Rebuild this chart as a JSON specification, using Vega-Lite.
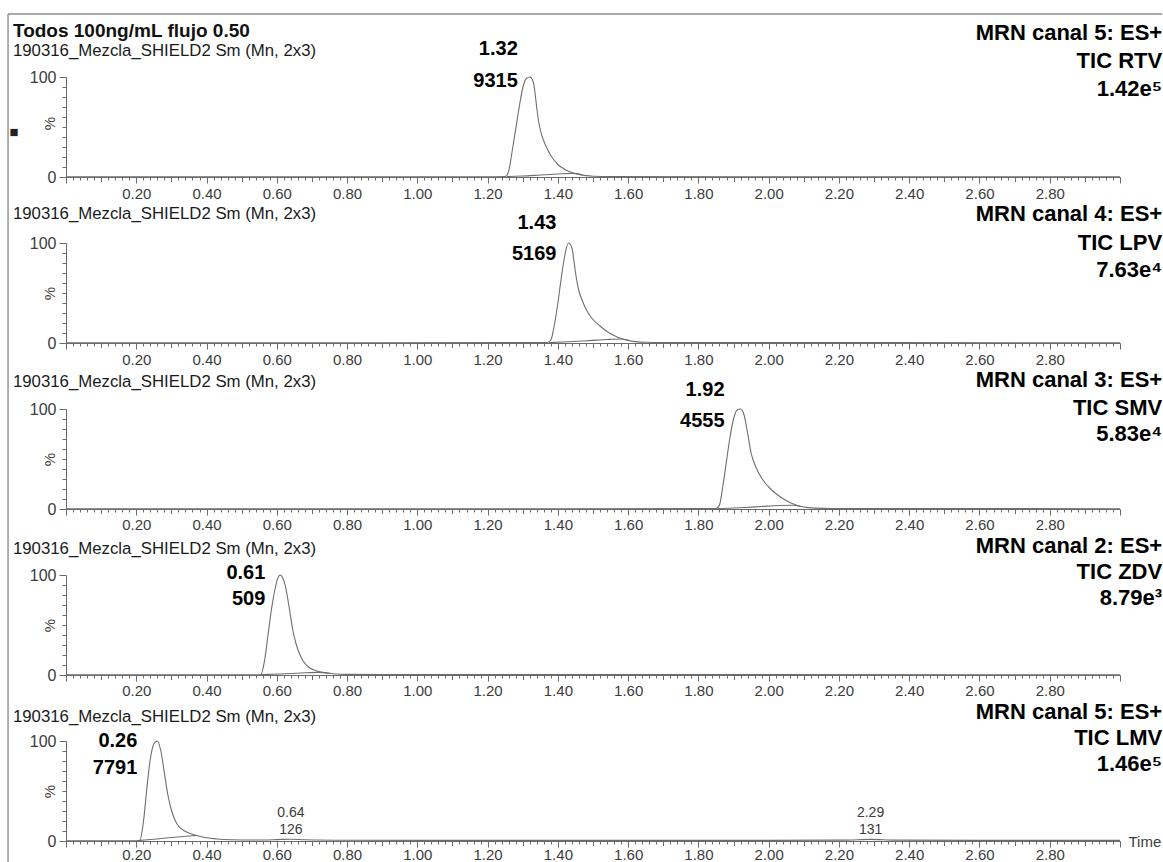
{
  "$schema": "https://vega.github.io/schema/vega-lite/v6.json",
  "background": "white",
  "padding": {"left": 7, "top": 13, "right": 1, "bottom": 0},
  "spacing": 66,
  "bounds": "flush",
  "config": {
    "font": "Liberation Sans",
    "view": {"stroke": null},
    "axis": {"domainColor": "#6a6a6a", "tickColor": "#6a6a6a", "labelColor": "#3c3c3c", "labelFont": "Liberation Sans", "labelFontSize": 15, "titleFont": "Liberation Sans", "titleFontWeight": "normal", "titleColor": "#3c3c3c", "titleFontSize": 15, "grid": false, "labelOverlap": false, "labelFlush": false, "labelBound": false, "domainWidth": 1, "tickWidth": 1},
    "axisY": {"labelFontSize": 16},
    "text": {"font": "Liberation Sans"},
    "rule": {"color": "#8c8c8c", "strokeWidth": 1.4}
  },
  "datasets": {
    "frame": [{"part": "border"}],
    "signal": [
      {"panel":1,"series":"trace","time":0,"pct":0.3},{"panel":1,"series":"trace","time":0.6,"pct":0.3},{"panel":1,"series":"trace","time":1.2,"pct":0.3},{"panel":1,"series":"trace","time":1.25,"pct":0.4},{"panel":1,"series":"trace","time":1.26,"pct":6},{"panel":1,"series":"trace","time":1.27,"pct":26},{"panel":1,"series":"trace","time":1.28,"pct":48},{"panel":1,"series":"trace","time":1.29,"pct":70},{"panel":1,"series":"trace","time":1.3,"pct":89},{"panel":1,"series":"trace","time":1.31,"pct":98.5},{"panel":1,"series":"trace","time":1.32,"pct":100},{"panel":1,"series":"trace","time":1.33,"pct":95},{"panel":1,"series":"trace","time":1.335,"pct":84},{"panel":1,"series":"trace","time":1.34,"pct":69},{"panel":1,"series":"trace","time":1.345,"pct":56},{"panel":1,"series":"trace","time":1.35,"pct":47},{"panel":1,"series":"trace","time":1.36,"pct":36},{"panel":1,"series":"trace","time":1.37,"pct":28},{"panel":1,"series":"trace","time":1.38,"pct":21.5},{"panel":1,"series":"trace","time":1.39,"pct":16.5},{"panel":1,"series":"trace","time":1.4,"pct":12.5},{"panel":1,"series":"trace","time":1.42,"pct":7.5},{"panel":1,"series":"trace","time":1.44,"pct":4.5},{"panel":1,"series":"trace","time":1.46,"pct":2.6},{"panel":1,"series":"trace","time":1.48,"pct":1.4},{"panel":1,"series":"trace","time":1.5,"pct":0.8},{"panel":1,"series":"trace","time":1.55,"pct":0.4},{"panel":1,"series":"trace","time":2.2,"pct":0.3},{"panel":1,"series":"trace","time":3.0,"pct":0.3},
      {"panel":1,"series":"base","time":1.255,"pct":0.4},{"panel":1,"series":"base","time":1.3,"pct":1},{"panel":1,"series":"base","time":1.35,"pct":2},{"panel":1,"series":"base","time":1.4,"pct":3},{"panel":1,"series":"base","time":1.44,"pct":3.6},{"panel":1,"series":"base","time":1.47,"pct":2.2},
      {"panel":2,"series":"trace","time":0,"pct":0.3},{"panel":2,"series":"trace","time":0.8,"pct":0.3},{"panel":2,"series":"trace","time":1.37,"pct":0.4},{"panel":2,"series":"trace","time":1.38,"pct":3},{"panel":2,"series":"trace","time":1.39,"pct":18},{"panel":2,"series":"trace","time":1.4,"pct":40},{"panel":2,"series":"trace","time":1.41,"pct":66},{"panel":2,"series":"trace","time":1.42,"pct":88},{"panel":2,"series":"trace","time":1.43,"pct":100},{"panel":2,"series":"trace","time":1.44,"pct":95},{"panel":2,"series":"trace","time":1.445,"pct":84},{"panel":2,"series":"trace","time":1.45,"pct":71},{"panel":2,"series":"trace","time":1.455,"pct":60},{"panel":2,"series":"trace","time":1.46,"pct":52},{"panel":2,"series":"trace","time":1.47,"pct":42},{"panel":2,"series":"trace","time":1.48,"pct":34},{"panel":2,"series":"trace","time":1.49,"pct":28},{"panel":2,"series":"trace","time":1.5,"pct":23.5},{"panel":2,"series":"trace","time":1.52,"pct":17},{"panel":2,"series":"trace","time":1.54,"pct":11.5},{"panel":2,"series":"trace","time":1.56,"pct":7.5},{"panel":2,"series":"trace","time":1.58,"pct":4.5},{"panel":2,"series":"trace","time":1.6,"pct":2.6},{"panel":2,"series":"trace","time":1.62,"pct":1.4},{"panel":2,"series":"trace","time":1.65,"pct":0.7},{"panel":2,"series":"trace","time":1.7,"pct":0.4},{"panel":2,"series":"trace","time":3.0,"pct":0.3},
      {"panel":2,"series":"base","time":1.375,"pct":0.4},{"panel":2,"series":"base","time":1.43,"pct":1.2},{"panel":2,"series":"base","time":1.49,"pct":2.4},{"panel":2,"series":"base","time":1.54,"pct":3.5},{"panel":2,"series":"base","time":1.58,"pct":4},{"panel":2,"series":"base","time":1.6,"pct":2.8},
      {"panel":3,"series":"trace","time":0,"pct":0.3},{"panel":3,"series":"trace","time":1.0,"pct":0.3},{"panel":3,"series":"trace","time":1.85,"pct":0.4},{"panel":3,"series":"trace","time":1.86,"pct":4},{"panel":3,"series":"trace","time":1.87,"pct":24},{"panel":3,"series":"trace","time":1.88,"pct":48},{"panel":3,"series":"trace","time":1.89,"pct":72},{"panel":3,"series":"trace","time":1.9,"pct":90},{"panel":3,"series":"trace","time":1.91,"pct":99},{"panel":3,"series":"trace","time":1.92,"pct":100},{"panel":3,"series":"trace","time":1.93,"pct":94},{"panel":3,"series":"trace","time":1.94,"pct":76},{"panel":3,"series":"trace","time":1.95,"pct":56},{"panel":3,"series":"trace","time":1.96,"pct":45},{"panel":3,"series":"trace","time":1.97,"pct":37},{"panel":3,"series":"trace","time":1.98,"pct":31},{"panel":3,"series":"trace","time":1.99,"pct":26},{"panel":3,"series":"trace","time":2.0,"pct":22},{"panel":3,"series":"trace","time":2.02,"pct":15.5},{"panel":3,"series":"trace","time":2.04,"pct":10.5},{"panel":3,"series":"trace","time":2.06,"pct":6.5},{"panel":3,"series":"trace","time":2.08,"pct":3.8},{"panel":3,"series":"trace","time":2.1,"pct":2},{"panel":3,"series":"trace","time":2.13,"pct":0.9},{"panel":3,"series":"trace","time":2.18,"pct":0.4},{"panel":3,"series":"trace","time":3.0,"pct":0.3},
      {"panel":3,"series":"base","time":1.855,"pct":0.4},{"panel":3,"series":"base","time":1.92,"pct":1.3},{"panel":3,"series":"base","time":1.98,"pct":2.5},{"panel":3,"series":"base","time":2.03,"pct":3.5},{"panel":3,"series":"base","time":2.07,"pct":3.8},{"panel":3,"series":"base","time":2.09,"pct":2.8},
      {"panel":4,"series":"trace","time":0,"pct":0.3},{"panel":4,"series":"trace","time":0.55,"pct":0.3},{"panel":4,"series":"trace","time":0.555,"pct":0.5},{"panel":4,"series":"trace","time":0.565,"pct":14},{"panel":4,"series":"trace","time":0.575,"pct":40},{"panel":4,"series":"trace","time":0.585,"pct":66},{"panel":4,"series":"trace","time":0.595,"pct":86},{"panel":4,"series":"trace","time":0.603,"pct":97},{"panel":4,"series":"trace","time":0.61,"pct":100},{"panel":4,"series":"trace","time":0.617,"pct":97},{"panel":4,"series":"trace","time":0.625,"pct":88},{"panel":4,"series":"trace","time":0.635,"pct":68},{"panel":4,"series":"trace","time":0.645,"pct":46},{"panel":4,"series":"trace","time":0.655,"pct":31},{"panel":4,"series":"trace","time":0.665,"pct":21},{"panel":4,"series":"trace","time":0.675,"pct":14},{"panel":4,"series":"trace","time":0.69,"pct":8},{"panel":4,"series":"trace","time":0.71,"pct":4.5},{"panel":4,"series":"trace","time":0.73,"pct":2.6},{"panel":4,"series":"trace","time":0.76,"pct":1.3},{"panel":4,"series":"trace","time":0.8,"pct":0.6},{"panel":4,"series":"trace","time":0.9,"pct":0.4},{"panel":4,"series":"trace","time":3.0,"pct":0.3},
      {"panel":4,"series":"base","time":0.555,"pct":0.4},{"panel":4,"series":"base","time":0.61,"pct":1},{"panel":4,"series":"base","time":0.67,"pct":2},{"panel":4,"series":"base","time":0.72,"pct":2.6},{"panel":4,"series":"base","time":0.75,"pct":1.8},
      {"panel":5,"series":"trace","time":0,"pct":0.3},{"panel":5,"series":"trace","time":0.2,"pct":0.3},{"panel":5,"series":"trace","time":0.21,"pct":0.6},{"panel":5,"series":"trace","time":0.22,"pct":18},{"panel":5,"series":"trace","time":0.23,"pct":52},{"panel":5,"series":"trace","time":0.24,"pct":82},{"panel":5,"series":"trace","time":0.25,"pct":97},{"panel":5,"series":"trace","time":0.26,"pct":100},{"panel":5,"series":"trace","time":0.27,"pct":90},{"panel":5,"series":"trace","time":0.28,"pct":68},{"panel":5,"series":"trace","time":0.29,"pct":46},{"panel":5,"series":"trace","time":0.3,"pct":31},{"panel":5,"series":"trace","time":0.31,"pct":21},{"panel":5,"series":"trace","time":0.32,"pct":15},{"panel":5,"series":"trace","time":0.34,"pct":9.5},{"panel":5,"series":"trace","time":0.36,"pct":6.8},{"panel":5,"series":"trace","time":0.38,"pct":4.8},{"panel":5,"series":"trace","time":0.4,"pct":3.2},{"panel":5,"series":"trace","time":0.43,"pct":2},{"panel":5,"series":"trace","time":0.47,"pct":1.3},{"panel":5,"series":"trace","time":0.54,"pct":1},{"panel":5,"series":"trace","time":0.6,"pct":1.4},{"panel":5,"series":"trace","time":0.64,"pct":1.8},{"panel":5,"series":"trace","time":0.68,"pct":1.3},{"panel":5,"series":"trace","time":0.8,"pct":0.8},{"panel":5,"series":"trace","time":1.3,"pct":0.6},{"panel":5,"series":"trace","time":2.0,"pct":0.6},{"panel":5,"series":"trace","time":2.22,"pct":0.9},{"panel":5,"series":"trace","time":2.29,"pct":1.6},{"panel":5,"series":"trace","time":2.36,"pct":0.9},{"panel":5,"series":"trace","time":2.6,"pct":0.6},{"panel":5,"series":"trace","time":3.0,"pct":0.6},
      {"panel":5,"series":"base","time":0.21,"pct":0.6},{"panel":5,"series":"base","time":0.26,"pct":2},{"panel":5,"series":"base","time":0.31,"pct":3.8},{"panel":5,"series":"base","time":0.35,"pct":5},{"panel":5,"series":"base","time":0.37,"pct":5.6}
    ],
    "peaks": [
      {"panel":1,"kind":"main","rt":1.32,"area":9315,"pct":100},
      {"panel":2,"kind":"main","rt":1.43,"area":5169,"pct":100},
      {"panel":3,"kind":"main","rt":1.92,"area":4555,"pct":100},
      {"panel":4,"kind":"main","rt":0.61,"area":509,"pct":100},
      {"panel":5,"kind":"main","rt":0.26,"area":7791,"pct":100},
      {"panel":5,"kind":"minor","rt":0.64,"area":126,"pct":1.8},
      {"panel":5,"kind":"minor","rt":2.29,"area":131,"pct":1.6}
    ],
    "headers": [
      {"panel":1,"run":"Todos 100ng/mL flujo 0.50","sample":"190316_Mezcla_SHIELD2 Sm (Mn, 2x3)","channel":"MRN canal 5: ES+","compound":"TIC RTV","intensity":"1.42e⁵","mark":"■"},
      {"panel":2,"sample":"190316_Mezcla_SHIELD2 Sm (Mn, 2x3)","channel":"MRN canal 4: ES+","compound":"TIC LPV","intensity":"7.63e⁴"},
      {"panel":3,"sample":"190316_Mezcla_SHIELD2 Sm (Mn, 2x3)","channel":"MRN canal 3: ES+","compound":"TIC SMV","intensity":"5.83e⁴"},
      {"panel":4,"sample":"190316_Mezcla_SHIELD2 Sm (Mn, 2x3)","channel":"MRN canal 2: ES+","compound":"TIC ZDV","intensity":"8.79e³"},
      {"panel":5,"sample":"190316_Mezcla_SHIELD2 Sm (Mn, 2x3)","channel":"MRN canal 5: ES+","compound":"TIC LMV","intensity":"1.46e⁵"}
    ]
  },
  "vconcat": [
    {
      "width": 1054, "height": 100,
      "layer": [
        {"data": {"name": "frame"}, "mark": {"type": "rule"}, "encoding": {"x": {"datum": -0.165, "type": "quantitative"}, "y": {"datum": 163, "type": "quantitative"}, "y2": {"datum": -33}}},
        {"data": {"name": "frame"}, "mark": {"type": "rule"}, "encoding": {"x": {"datum": -0.165, "type": "quantitative"}, "x2": {"datum": 3.12}, "y": {"datum": 163, "type": "quantitative"}}},
        {"data": {"name": "signal"}, "transform": [{"filter": "datum.panel == 1"}],
         "mark": {"type": "line", "color": "#6e6e6e", "strokeWidth": 1.1, "interpolate": "monotone"},
         "encoding": {
           "x": {"field": "time", "type": "quantitative", "scale": {"domain": [0, 3], "nice": false}, "axis": {"title": null, "tickCount": 150, "labelPadding": 3, "labelExpr": "abs(datum.value*5-round(datum.value*5)) < 0.001 && datum.value > 0.1 && datum.value < 2.9 ? format(datum.value, '.2f') : ''", "tickSize": {"condition": [{"test": "abs(datum.value*5-round(datum.value*5)) < 0.001", "value": 6}, {"test": "abs(datum.value*10-round(datum.value*10)) < 0.001", "value": 4.5}], "value": 3}}},
           "y": {"field": "pct", "type": "quantitative", "scale": {"domain": [0, 100], "nice": false}, "axis": {"title": "%", "tickCount": 10, "labelPadding": 3, "labelExpr": "datum.value == 0 || datum.value == 100 ? datum.label : ''", "tickSize": {"condition": {"test": "datum.value == 0 || datum.value == 100", "value": 7}, "value": 4}, "titleX": -17, "titleY": 46, "titleAngle": -90, "titleAlign": "center", "titleBaseline": "middle"}},
           "detail": {"field": "series", "type": "nominal"}
         }},
        {"data": {"name": "peaks"}, "transform": [{"filter": "datum.panel == 1 && datum.kind == 'main'"}],
         "mark": {"type": "text", "align": "right", "baseline": "middle", "dx": -12, "dy": 4, "fontSize": 20, "fontWeight": "bold", "color": "#000"},
         "encoding": {"x": {"field": "rt", "type": "quantitative"}, "y": {"field": "pct", "type": "quantitative"}, "text": {"field": "area", "type": "quantitative", "format": "d"}}},
        {"data": {"name": "peaks"}, "transform": [{"filter": "datum.panel == 1 && datum.kind == 'main'"}],
         "mark": {"type": "text", "align": "right", "baseline": "middle", "dx": -12, "dy": -28, "fontSize": 20, "fontWeight": "bold", "color": "#000"},
         "encoding": {"x": {"field": "rt", "type": "quantitative"}, "y": {"field": "pct", "type": "quantitative"}, "text": {"field": "rt", "type": "quantitative", "format": ".2f"}}},
        {"data": {"name": "headers"}, "transform": [{"filter": "datum.panel == 1"}],
         "layer": [
           {"mark": {"type": "text", "align": "left", "baseline": "middle", "fontSize": 19, "fontWeight": "bold", "color": "#111"},
            "encoding": {"x": {"datum": -0.151, "type": "quantitative"}, "y": {"datum": 146, "type": "quantitative"}, "text": {"field": "run"}}},
           {"mark": {"type": "text", "align": "left", "baseline": "middle", "fontSize": 16.8, "color": "#1a1a1a"},
            "encoding": {"x": {"datum": -0.151, "type": "quantitative"}, "y": {"datum": 126, "type": "quantitative"}, "text": {"field": "sample"}}},
           {"mark": {"type": "text", "align": "center", "baseline": "middle", "fontSize": 15, "color": "#222"},
            "encoding": {"x": {"datum": -0.148, "type": "quantitative"}, "y": {"datum": 45, "type": "quantitative"}, "text": {"field": "mark"}}},
           {"mark": {"type": "text", "align": "right", "baseline": "middle", "fontSize": 22, "fontWeight": "bold", "color": "#000"},
            "encoding": {"x": {"datum": 3.12, "type": "quantitative"}, "y": {"datum": 144, "type": "quantitative"}, "text": {"field": "channel"}}},
           {"mark": {"type": "text", "align": "right", "baseline": "middle", "fontSize": 22, "fontWeight": "bold", "color": "#000"},
            "encoding": {"x": {"datum": 3.12, "type": "quantitative"}, "y": {"datum": 116, "type": "quantitative"}, "text": {"field": "compound"}}},
           {"mark": {"type": "text", "align": "right", "baseline": "middle", "fontSize": 22, "fontWeight": "bold", "color": "#000"},
            "encoding": {"x": {"datum": 3.12, "type": "quantitative"}, "y": {"datum": 88, "type": "quantitative"}, "text": {"field": "intensity"}}}
         ]}
      ]
    },
    {
      "width": 1054, "height": 100,
      "layer": [
        {"data": {"name": "frame"}, "mark": {"type": "rule"}, "encoding": {"x": {"datum": -0.165, "type": "quantitative"}, "y": {"datum": 133, "type": "quantitative"}, "y2": {"datum": -33}}},
        {"data": {"name": "signal"}, "transform": [{"filter": "datum.panel == 2"}],
         "mark": {"type": "line", "color": "#6e6e6e", "strokeWidth": 1.1, "interpolate": "monotone"},
         "encoding": {
           "x": {"field": "time", "type": "quantitative", "scale": {"domain": [0, 3], "nice": false}, "axis": {"title": null, "tickCount": 150, "labelPadding": 3, "labelExpr": "abs(datum.value*5-round(datum.value*5)) < 0.001 && datum.value > 0.1 && datum.value < 2.9 ? format(datum.value, '.2f') : ''", "tickSize": {"condition": [{"test": "abs(datum.value*5-round(datum.value*5)) < 0.001", "value": 6}, {"test": "abs(datum.value*10-round(datum.value*10)) < 0.001", "value": 4.5}], "value": 3}}},
           "y": {"field": "pct", "type": "quantitative", "scale": {"domain": [0, 100], "nice": false}, "axis": {"title": "%", "tickCount": 10, "labelPadding": 3, "labelExpr": "datum.value == 0 || datum.value == 100 ? datum.label : ''", "tickSize": {"condition": {"test": "datum.value == 0 || datum.value == 100", "value": 7}, "value": 4}, "titleX": -17, "titleY": 50, "titleAngle": -90, "titleAlign": "center", "titleBaseline": "middle"}},
           "detail": {"field": "series", "type": "nominal"}
         }},
        {"data": {"name": "peaks"}, "transform": [{"filter": "datum.panel == 2 && datum.kind == 'main'"}],
         "mark": {"type": "text", "align": "right", "baseline": "middle", "dx": -12, "dy": 11, "fontSize": 20, "fontWeight": "bold", "color": "#000"},
         "encoding": {"x": {"field": "rt", "type": "quantitative"}, "y": {"field": "pct", "type": "quantitative"}, "text": {"field": "area", "type": "quantitative", "format": "d"}}},
        {"data": {"name": "peaks"}, "transform": [{"filter": "datum.panel == 2 && datum.kind == 'main'"}],
         "mark": {"type": "text", "align": "right", "baseline": "middle", "dx": -12, "dy": -20, "fontSize": 20, "fontWeight": "bold", "color": "#000"},
         "encoding": {"x": {"field": "rt", "type": "quantitative"}, "y": {"field": "pct", "type": "quantitative"}, "text": {"field": "rt", "type": "quantitative", "format": ".2f"}}},
        {"data": {"name": "headers"}, "transform": [{"filter": "datum.panel == 2"}],
         "layer": [
           {"mark": {"type": "text", "align": "left", "baseline": "middle", "fontSize": 16.8, "color": "#1a1a1a"},
            "encoding": {"x": {"datum": -0.151, "type": "quantitative"}, "y": {"datum": 129, "type": "quantitative"}, "text": {"field": "sample"}}},
           {"mark": {"type": "text", "align": "right", "baseline": "middle", "fontSize": 22, "fontWeight": "bold", "color": "#000"},
            "encoding": {"x": {"datum": 3.12, "type": "quantitative"}, "y": {"datum": 129, "type": "quantitative"}, "text": {"field": "channel"}}},
           {"mark": {"type": "text", "align": "right", "baseline": "middle", "fontSize": 22, "fontWeight": "bold", "color": "#000"},
            "encoding": {"x": {"datum": 3.12, "type": "quantitative"}, "y": {"datum": 100, "type": "quantitative"}, "text": {"field": "compound"}}},
           {"mark": {"type": "text", "align": "right", "baseline": "middle", "fontSize": 22, "fontWeight": "bold", "color": "#000"},
            "encoding": {"x": {"datum": 3.12, "type": "quantitative"}, "y": {"datum": 73, "type": "quantitative"}, "text": {"field": "intensity"}}}
         ]}
      ]
    },
    {
      "width": 1054, "height": 100,
      "layer": [
        {"data": {"name": "frame"}, "mark": {"type": "rule"}, "encoding": {"x": {"datum": -0.165, "type": "quantitative"}, "y": {"datum": 133, "type": "quantitative"}, "y2": {"datum": -33}}},
        {"data": {"name": "signal"}, "transform": [{"filter": "datum.panel == 3"}],
         "mark": {"type": "line", "color": "#6e6e6e", "strokeWidth": 1.1, "interpolate": "monotone"},
         "encoding": {
           "x": {"field": "time", "type": "quantitative", "scale": {"domain": [0, 3], "nice": false}, "axis": {"title": null, "tickCount": 150, "labelPadding": 2, "labelExpr": "abs(datum.value*5-round(datum.value*5)) < 0.001 && datum.value > 0.1 && datum.value < 2.9 ? format(datum.value, '.2f') : ''", "tickSize": {"condition": [{"test": "abs(datum.value*5-round(datum.value*5)) < 0.001", "value": 6}, {"test": "abs(datum.value*10-round(datum.value*10)) < 0.001", "value": 4.5}], "value": 3}}},
           "y": {"field": "pct", "type": "quantitative", "scale": {"domain": [0, 100], "nice": false}, "axis": {"title": "%", "tickCount": 10, "labelPadding": 3, "labelExpr": "datum.value == 0 || datum.value == 100 ? datum.label : ''", "tickSize": {"condition": {"test": "datum.value == 0 || datum.value == 100", "value": 7}, "value": 4}, "titleX": -17, "titleY": 50, "titleAngle": -90, "titleAlign": "center", "titleBaseline": "middle"}},
           "detail": {"field": "series", "type": "nominal"}
         }},
        {"data": {"name": "peaks"}, "transform": [{"filter": "datum.panel == 3 && datum.kind == 'main'"}],
         "mark": {"type": "text", "align": "right", "baseline": "middle", "dx": -16, "dy": 12, "fontSize": 20, "fontWeight": "bold", "color": "#000"},
         "encoding": {"x": {"field": "rt", "type": "quantitative"}, "y": {"field": "pct", "type": "quantitative"}, "text": {"field": "area", "type": "quantitative", "format": "d"}}},
        {"data": {"name": "peaks"}, "transform": [{"filter": "datum.panel == 3 && datum.kind == 'main'"}],
         "mark": {"type": "text", "align": "right", "baseline": "middle", "dx": -16, "dy": -19, "fontSize": 20, "fontWeight": "bold", "color": "#000"},
         "encoding": {"x": {"field": "rt", "type": "quantitative"}, "y": {"field": "pct", "type": "quantitative"}, "text": {"field": "rt", "type": "quantitative", "format": ".2f"}}},
        {"data": {"name": "headers"}, "transform": [{"filter": "datum.panel == 3"}],
         "layer": [
           {"mark": {"type": "text", "align": "left", "baseline": "middle", "fontSize": 16.8, "color": "#1a1a1a"},
            "encoding": {"x": {"datum": -0.151, "type": "quantitative"}, "y": {"datum": 127, "type": "quantitative"}, "text": {"field": "sample"}}},
           {"mark": {"type": "text", "align": "right", "baseline": "middle", "fontSize": 22, "fontWeight": "bold", "color": "#000"},
            "encoding": {"x": {"datum": 3.12, "type": "quantitative"}, "y": {"datum": 129, "type": "quantitative"}, "text": {"field": "channel"}}},
           {"mark": {"type": "text", "align": "right", "baseline": "middle", "fontSize": 22, "fontWeight": "bold", "color": "#000"},
            "encoding": {"x": {"datum": 3.12, "type": "quantitative"}, "y": {"datum": 101, "type": "quantitative"}, "text": {"field": "compound"}}},
           {"mark": {"type": "text", "align": "right", "baseline": "middle", "fontSize": 22, "fontWeight": "bold", "color": "#000"},
            "encoding": {"x": {"datum": 3.12, "type": "quantitative"}, "y": {"datum": 75, "type": "quantitative"}, "text": {"field": "intensity"}}}
         ]}
      ]
    },
    {
      "width": 1054, "height": 100,
      "layer": [
        {"data": {"name": "frame"}, "mark": {"type": "rule"}, "encoding": {"x": {"datum": -0.165, "type": "quantitative"}, "y": {"datum": 133, "type": "quantitative"}, "y2": {"datum": -33}}},
        {"data": {"name": "signal"}, "transform": [{"filter": "datum.panel == 4"}],
         "mark": {"type": "line", "color": "#6e6e6e", "strokeWidth": 1.1, "interpolate": "monotone"},
         "encoding": {
           "x": {"field": "time", "type": "quantitative", "scale": {"domain": [0, 3], "nice": false}, "axis": {"title": null, "tickCount": 150, "labelPadding": 2, "labelExpr": "abs(datum.value*5-round(datum.value*5)) < 0.001 && datum.value > 0.1 && datum.value < 2.9 ? format(datum.value, '.2f') : ''", "tickSize": {"condition": [{"test": "abs(datum.value*5-round(datum.value*5)) < 0.001", "value": 6}, {"test": "abs(datum.value*10-round(datum.value*10)) < 0.001", "value": 4.5}], "value": 3}}},
           "y": {"field": "pct", "type": "quantitative", "scale": {"domain": [0, 100], "nice": false}, "axis": {"title": "%", "tickCount": 10, "labelPadding": 3, "labelExpr": "datum.value == 0 || datum.value == 100 ? datum.label : ''", "tickSize": {"condition": {"test": "datum.value == 0 || datum.value == 100", "value": 7}, "value": 4}, "titleX": -17, "titleY": 50, "titleAngle": -90, "titleAlign": "center", "titleBaseline": "middle"}},
           "detail": {"field": "series", "type": "nominal"}
         }},
        {"data": {"name": "peaks"}, "transform": [{"filter": "datum.panel == 4 && datum.kind == 'main'"}],
         "mark": {"type": "text", "align": "right", "baseline": "middle", "dx": -15, "dy": 24, "fontSize": 20, "fontWeight": "bold", "color": "#000"},
         "encoding": {"x": {"field": "rt", "type": "quantitative"}, "y": {"field": "pct", "type": "quantitative"}, "text": {"field": "area", "type": "quantitative", "format": "d"}}},
        {"data": {"name": "peaks"}, "transform": [{"filter": "datum.panel == 4 && datum.kind == 'main'"}],
         "mark": {"type": "text", "align": "right", "baseline": "middle", "dx": -15, "dy": -2, "fontSize": 20, "fontWeight": "bold", "color": "#000"},
         "encoding": {"x": {"field": "rt", "type": "quantitative"}, "y": {"field": "pct", "type": "quantitative"}, "text": {"field": "rt", "type": "quantitative", "format": ".2f"}}},
        {"data": {"name": "headers"}, "transform": [{"filter": "datum.panel == 4"}],
         "layer": [
           {"mark": {"type": "text", "align": "left", "baseline": "middle", "fontSize": 16.8, "color": "#1a1a1a"},
            "encoding": {"x": {"datum": -0.151, "type": "quantitative"}, "y": {"datum": 126, "type": "quantitative"}, "text": {"field": "sample"}}},
           {"mark": {"type": "text", "align": "right", "baseline": "middle", "fontSize": 22, "fontWeight": "bold", "color": "#000"},
            "encoding": {"x": {"datum": 3.12, "type": "quantitative"}, "y": {"datum": 129, "type": "quantitative"}, "text": {"field": "channel"}}},
           {"mark": {"type": "text", "align": "right", "baseline": "middle", "fontSize": 22, "fontWeight": "bold", "color": "#000"},
            "encoding": {"x": {"datum": 3.12, "type": "quantitative"}, "y": {"datum": 103, "type": "quantitative"}, "text": {"field": "compound"}}},
           {"mark": {"type": "text", "align": "right", "baseline": "middle", "fontSize": 22, "fontWeight": "bold", "color": "#000"},
            "encoding": {"x": {"datum": 3.12, "type": "quantitative"}, "y": {"datum": 77, "type": "quantitative"}, "text": {"field": "intensity"}}}
         ]}
      ]
    },
    {
      "width": 1054, "height": 100,
      "layer": [
        {"data": {"name": "frame"}, "mark": {"type": "rule"}, "encoding": {"x": {"datum": -0.165, "type": "quantitative"}, "y": {"datum": 133, "type": "quantitative"}, "y2": {"datum": -21}}},
        {"data": {"name": "signal"}, "transform": [{"filter": "datum.panel == 5"}],
         "mark": {"type": "line", "color": "#6e6e6e", "strokeWidth": 1.1, "interpolate": "monotone"},
         "encoding": {
           "x": {"field": "time", "type": "quantitative", "scale": {"domain": [0, 3], "nice": false}, "axis": {"title": "Time", "titleX": 1062, "titleY": 0, "titleAlign": "left", "titleBaseline": "middle", "titleAngle": 0, "tickCount": 150, "labelPadding": 0, "labelExpr": "abs(datum.value*5-round(datum.value*5)) < 0.001 && datum.value > 0.1 && datum.value < 2.9 ? format(datum.value, '.2f') : ''", "tickSize": {"condition": [{"test": "abs(datum.value*5-round(datum.value*5)) < 0.001", "value": 6}, {"test": "abs(datum.value*10-round(datum.value*10)) < 0.001", "value": 4.5}], "value": 3}}},
           "y": {"field": "pct", "type": "quantitative", "scale": {"domain": [0, 100], "nice": false}, "axis": {"title": "%", "tickCount": 10, "labelPadding": 3, "labelExpr": "datum.value == 0 || datum.value == 100 ? datum.label : ''", "tickSize": {"condition": {"test": "datum.value == 0 || datum.value == 100", "value": 7}, "value": 4}, "titleX": -17, "titleY": 50, "titleAngle": -90, "titleAlign": "center", "titleBaseline": "middle"}},
           "detail": {"field": "series", "type": "nominal"}
         }},
        {"data": {"name": "peaks"}, "transform": [{"filter": "datum.panel == 5 && datum.kind == 'main'"}],
         "mark": {"type": "text", "align": "right", "baseline": "middle", "dx": -20, "dy": 27, "fontSize": 20, "fontWeight": "bold", "color": "#000"},
         "encoding": {"x": {"field": "rt", "type": "quantitative"}, "y": {"field": "pct", "type": "quantitative"}, "text": {"field": "area", "type": "quantitative", "format": "d"}}},
        {"data": {"name": "peaks"}, "transform": [{"filter": "datum.panel == 5 && datum.kind == 'main'"}],
         "mark": {"type": "text", "align": "right", "baseline": "middle", "dx": -20, "dy": 0, "fontSize": 20, "fontWeight": "bold", "color": "#000"},
         "encoding": {"x": {"field": "rt", "type": "quantitative"}, "y": {"field": "pct", "type": "quantitative"}, "text": {"field": "rt", "type": "quantitative", "format": ".2f"}}},
        {"data": {"name": "peaks"}, "transform": [{"filter": "datum.panel == 5 && datum.kind == 'minor'"}],
         "mark": {"type": "text", "align": "center", "baseline": "middle", "dy": -9, "fontSize": 14, "color": "#3c3c3c"},
         "encoding": {"x": {"field": "rt", "type": "quantitative"}, "y": {"field": "pct", "type": "quantitative"}, "text": {"field": "area", "type": "quantitative", "format": "d"}}},
        {"data": {"name": "peaks"}, "transform": [{"filter": "datum.panel == 5 && datum.kind == 'minor'"}],
         "mark": {"type": "text", "align": "center", "baseline": "middle", "dy": -26, "fontSize": 14, "color": "#3c3c3c"},
         "encoding": {"x": {"field": "rt", "type": "quantitative"}, "y": {"field": "pct", "type": "quantitative"}, "text": {"field": "rt", "type": "quantitative", "format": ".2f"}}},
        {"data": {"name": "headers"}, "transform": [{"filter": "datum.panel == 5"}],
         "layer": [
           {"mark": {"type": "text", "align": "left", "baseline": "middle", "fontSize": 16.8, "color": "#1a1a1a"},
            "encoding": {"x": {"datum": -0.151, "type": "quantitative"}, "y": {"datum": 124, "type": "quantitative"}, "text": {"field": "sample"}}},
           {"mark": {"type": "text", "align": "right", "baseline": "middle", "fontSize": 22, "fontWeight": "bold", "color": "#000"},
            "encoding": {"x": {"datum": 3.12, "type": "quantitative"}, "y": {"datum": 129, "type": "quantitative"}, "text": {"field": "channel"}}},
           {"mark": {"type": "text", "align": "right", "baseline": "middle", "fontSize": 22, "fontWeight": "bold", "color": "#000"},
            "encoding": {"x": {"datum": 3.12, "type": "quantitative"}, "y": {"datum": 103, "type": "quantitative"}, "text": {"field": "compound"}}},
           {"mark": {"type": "text", "align": "right", "baseline": "middle", "fontSize": 22, "fontWeight": "bold", "color": "#000"},
            "encoding": {"x": {"datum": 3.12, "type": "quantitative"}, "y": {"datum": 77, "type": "quantitative"}, "text": {"field": "intensity"}}}
         ]}
      ]
    }
  ]
}
